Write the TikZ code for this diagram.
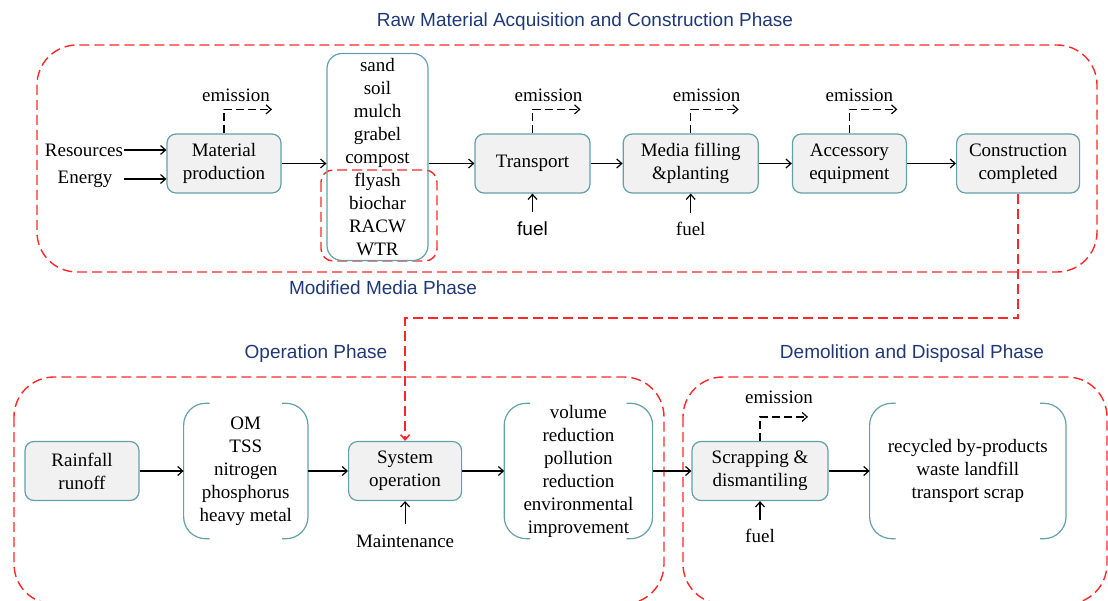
\documentclass[tikz,border=0pt]{standalone}
\usepackage{fontspec}
\setmainfont{Liberation Serif}
\setsansfont{Liberation Sans}
\usetikzlibrary{positioning}
\usetikzlibrary{arrows.meta}

\definecolor{boxteal}{RGB}{100,160,168}
\definecolor{boxfill}{RGB}{241,241,241}
\definecolor{phasered}{RGB}{255,40,40}
\definecolor{titleblue}{RGB}{32,56,120}

\tikzset{txt/.style={font=\fontsize{19}{23}\selectfont, align=center, inner sep=1pt}}
\tikzset{stage/.style={txt, rectangle, rounded corners=9pt, draw=boxteal, fill=boxfill, line width=1.2pt, minimum height=59pt}}
\tikzset{group/.style={txt, rectangle, minimum height=135pt}}
\tikzset{title/.style={font=\sffamily\fontsize{19}{23}\selectfont, text=titleblue}}
\tikzset{phase/.style={draw=phasered, line width=1.4pt, dash pattern=on 10pt off 5pt, rounded corners=40pt}}
\tikzset{arrow/.style={-{Straight Barb[length=5pt,width=9pt]}, line width=1.2pt}}
\tikzset{emit/.style={arrow, dash pattern=on 8pt off 4pt}}

% round brackets on both sides of a group node
\newcommand{\bracketpair}[1]{%
  \draw[boxteal, line width=1.2pt, rounded corners=22pt] ([xshift=26pt]#1.north west) -- (#1.north west) -- (#1.south west) -- ([xshift=26pt]#1.south west);
  \draw[boxteal, line width=1.2pt, rounded corners=22pt] ([xshift=-26pt]#1.north east) -- (#1.north east) -- (#1.south east) -- ([xshift=-26pt]#1.south east);}

\begin{document}
\begin{tikzpicture}[x=1pt, y=-1pt]
    \useasboundingbox (0,0) rectangle (1108,601);

    % Phase frames
    \draw[phase] (37,45) rectangle (1097,272);
    \draw[phase] (14,377) rectangle (664,604);
    \draw[phase] (683,377) rectangle (1107,604);
    \draw[phase, rounded corners=12pt] (321,170) rectangle (437,261);

    % Phase titles
    \node[title] (t-raw) at (585,22) {Raw Material Acquisition and Construction Phase};
    \node[title] (t-mod) at (383,288) {Modified Media Phase};
    \node[title] (t-op) at (316,354) {Operation Phase};
    \node[title] (t-dem) at (912,354) {Demolition and Disposal Phase};

    % Material production
    \node[stage, minimum width=114pt] (mat) at (224,163.5) {Material\\production};
    \node[txt] (res) at (84,150) {Resources};
    \node[txt] (energy) at (85,179) {Energy};
    \draw[arrow] (res.east) -- (res.east -| mat.west);
    \draw[arrow] (energy.east -| res.east) -- (energy.east -| mat.west);

    % Media materials
    \node[txt, draw=boxteal, line width=1.2pt, rounded corners=15pt, minimum width=101pt, minimum height=207pt] (mix) at (377.5,157)
        {sand\\soil\\mulch\\grabel\\compost\\flyash\\biochar\\RACW\\WTR};
    \draw[arrow] (mat.east) -- (mat.east -| mix.west);

    % Construction chain
    \node[stage, minimum width=115pt] (trans) at (532.5,163.5) {Transport};
    \node[stage, minimum width=135pt, right=32pt of trans] (fill) {Media filling\\\&planting};
    \node[stage, minimum width=114pt, right=33pt of fill] (acc) {Accessory\\equipment};
    \node[stage, minimum width=123pt, right=49pt of acc] (con) {Construction\\completed};
    \draw[arrow] (mix.east |- trans.west) -- (trans.west);
    \draw[arrow] (trans) -- (fill);
    \draw[arrow] (fill) -- (acc);
    \draw[arrow] (acc) -- (con);

    % Fuel inputs
    \node[txt, font=\sffamily\fontsize{19}{23}\selectfont] (fuel1) at ([yshift=-35pt]trans.south) {fuel};
    \node[txt] (fuel2) at ([yshift=-35pt]fill.south) {fuel};
    \draw[arrow] ([yshift=8pt]fuel1.north) -- (trans.south);
    \draw[arrow] ([yshift=8pt]fuel2.north) -- (fill.south);

    % Operation phase
    \node[stage, minimum width=114pt] (rain) at (82,471) {Rainfall\\runoff};
    \node[group, minimum width=124pt, right=44pt of rain] (poll) {OM\\TSS\\nitrogen\\phosphorus\\heavy metal};
    \node[stage, minimum width=113pt, right=40pt of poll] (sys) {System\\operation};
    \node[group, minimum width=148pt, right=42pt of sys] (effect) {volume\\reduction\\pollution\\reduction\\environmental\\improvement};
    \bracketpair{poll}
    \bracketpair{effect}
    \draw[arrow] (rain) -- (poll);
    \draw[arrow] (poll) -- (sys);
    \draw[arrow] (sys) -- (effect);
    \node[txt] (maint) at ([yshift=-40pt]sys.south) {Maintenance};
    \draw[arrow] ([yshift=10pt]maint.north) -- (sys.south);

    % Demolition and disposal phase
    \node[stage, minimum width=136pt] (scrap) at (760,471) {Scrapping \&\\dismantiling};
    \node[group, minimum width=196pt, right=41pt of scrap] (fate) {recycled by-products\\waste landfill\\transport scrap};
    \bracketpair{fate}
    \draw[arrow] (effect) -- (scrap);
    \draw[arrow] (scrap) -- (fate);
    \node[txt] (fuel3) at ([yshift=-35pt]scrap.south) {fuel};
    \draw[arrow] ([yshift=8pt]fuel3.north) -- (scrap.south);

    % Emissions
    \draw[emit] (mat.north) -- ++(0,-24) -- ++(48,0);
    \node[txt] (em1) at ([xshift=12pt,yshift=38pt]mat.north) {emission};
    \draw[emit] (trans.north) -- ++(0,-24) -- ++(48,0);
    \node[txt] (em2) at ([xshift=16pt,yshift=38pt]trans.north) {emission};
    \draw[emit] (fill.north) -- ++(0,-24) -- ++(48,0);
    \node[txt] (em3) at ([xshift=16pt,yshift=38pt]fill.north) {emission};
    \draw[emit] (acc.north) -- ++(0,-24) -- ++(48,0);
    \node[txt] (em4) at ([xshift=10pt,yshift=38pt]acc.north) {emission};
    \draw[emit] (scrap.north) -- ++(0,-24) -- ++(48,0);
    \node[txt] (em5) at ([xshift=19pt,yshift=44pt]scrap.north) {emission};

    % Construction -> operation link
    \coordinate (bend) at (1014.5,318);
    \draw[phase, line width=1.6pt, rounded corners=0pt, -{Straight Barb[length=5pt,width=9pt]}] (con.south) -- (con.south |- bend) -| (sys.north);

\end{tikzpicture}
\end{document}
